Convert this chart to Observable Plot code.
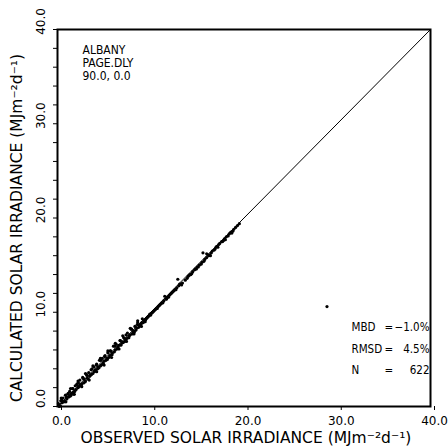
<!DOCTYPE html>
<html>
<head>
<meta charset="utf-8">
<script src="https://cdn.jsdelivr.net/npm/d3@7"></script>
<script src="https://cdn.jsdelivr.net/npm/@observablehq/plot@0.6"></script>
<style>
  html, body { margin: 0; padding: 0; background: #fff; }
</style>
</head>
<body>
<div id="chart"></div>
<script>
// Observed vs calculated daily solar irradiance (MJ m-2 d-1)
const observed = [
  0.1,0.3,0.35,0.5,0.6,0.8,0.85,1.0,1.1,1.2,1.3,1.35,1.5,1.6,1.7,1.75,1.9,2.0,2.1,2.2,
  2.3,2.4,2.45,2.6,2.7,2.8,2.85,3.0,3.1,3.2,3.3,3.35,3.5,3.6,3.65,3.8,3.9,4.0,4.1,4.2,
  4.3,4.35,4.5,4.6,4.7,4.8,4.9,5.0,5.1,5.2,5.3,5.4,5.5,5.6,5.7,5.8,5.9,6.0,6.1,6.2,
  6.3,6.4,6.5,6.6,6.7,6.8,6.9,7.0,7.1,7.2,7.3,7.4,7.5,7.6,7.7,7.8,7.9,8.0,8.1,8.2,
  8.3,8.4,8.5,8.6,8.7,8.8,8.9,9.0,9.1,9.2,9.3,9.4,9.5,9.6,9.7,9.8,9.9,10.0,10.2,10.3,
  10.5,10.6,10.8,10.9,11.1,11.2,11.4,11.5,11.7,11.8,12.0,12.2,12.3,12.5,12.7,12.8,13.0,13.2,13.4,12.9,
  13.7,13.9,14.0,14.2,14.4,14.5,14.7,14.9,15.0,15.2,15.4,15.5,15.7,15.8,16.0,16.2,16.3,16.5,16.6,16.8,
  17.0,17.1,17.3,17.4,17.6,17.8,17.9,18.1,18.3,18.4,18.6,18.8,18.9,19.1,19.3,19.5,
  0.2,0.45,0.7,0.95,1.15,1.45,1.65,1.85,2.05,2.25,2.55,2.75,2.95,3.15,3.45,3.7,3.95,4.15,4.45,4.65,
  4.85,5.05,5.35,5.65,5.85,6.15,6.45,6.75,7.05,7.35,7.65,7.95,8.25,8.55,9.05,9.45,9.85,10.4,11.0,11.6,
  12.1,12.6,13.1,14.1,14.8,15.6,16.0,16.9,17.7,18.5,
  0.4,0.9,1.4,1.8,2.2,2.6,3.0,3.4,3.8,4.2,4.6,5.0,5.4,5.8,6.2,6.6,7.0,7.4,7.8,8.2,
  8.6,9.0,9.4,10.1,10.7,11.3,11.9,12.4,13.3,14.3,15.1,16.4,17.2,18.0,18.7,
  28.9
];
const calculated = [
  0.3,0.1,0.6,0.4,0.9,0.6,1.2,0.8,1.3,1.0,1.6,1.1,1.4,1.9,1.5,1.3,2.2,1.8,2.4,2.0,
  2.1,2.8,2.3,2.4,3.1,2.5,2.9,2.7,3.4,3.0,2.9,3.6,3.3,3.9,3.4,3.5,4.2,3.8,3.9,4.5,
  4.0,4.2,4.9,4.3,4.4,5.1,4.6,4.8,5.4,4.9,5.1,5.7,5.2,5.4,5.9,5.5,5.7,6.4,5.8,6.0,
  6.6,6.1,6.3,6.5,7.0,6.5,6.7,6.8,7.3,6.9,7.1,7.2,7.8,7.3,7.5,7.6,8.2,7.7,7.9,8.0,
  8.5,8.1,8.3,8.9,8.4,8.6,8.7,8.8,9.3,8.9,9.1,9.2,9.3,9.4,9.5,9.6,9.8,9.7,10.0,10.1,
  10.3,10.4,10.6,10.7,10.9,11.0,11.2,11.7,11.4,11.6,11.8,12.0,12.1,12.3,12.4,12.6,12.8,13.0,13.1,13.5,
  13.4,13.6,13.8,14.0,14.1,14.3,14.5,14.6,14.8,15.0,15.1,15.3,15.4,15.6,15.8,16.0,16.1,16.3,16.5,16.6,
  16.9,17.0,17.2,17.3,17.5,17.6,17.8,18.0,18.1,18.3,18.5,18.6,18.8,19.0,19.2,19.4,
  0.0,0.7,0.5,1.0,1.4,1.2,1.9,1.6,2.3,2.5,2.2,3.0,2.6,3.3,3.2,4.0,3.7,4.4,4.1,4.9,
  4.5,5.3,5.0,5.9,5.5,6.4,6.2,7.0,6.8,7.6,7.3,8.2,7.9,8.7,8.9,9.2,9.7,10.2,10.8,11.4,
  11.9,12.4,13.0,13.9,14.6,16.3,16.2,16.7,17.5,18.4,
  0.9,0.5,1.9,1.3,2.7,2.1,3.5,2.8,4.3,3.7,5.1,4.4,5.9,5.2,6.7,6.1,7.5,6.9,8.3,7.7,
  9.1,8.5,9.0,9.9,10.4,11.0,11.6,12.2,12.9,14.0,14.8,16.0,16.9,17.7,18.4,
  10.6
];
const axisDomain = [0, 40];
const majorTicks = [0, 10, 20, 30, 40];
const minorTicks = [0, 2, 4, 6, 8, 10, 12, 14, 16, 18, 20, 22, 24, 26, 28, 30, 32, 34, 36, 38, 40];
const siteLines = ["ALBANY", "PAGE.DLY", "90.0, 0.0"];
const statNames = ["MBD", "RMSD", "N"];
const statValues = ["\u22121.0%", "4.5%", "622"];
const xTitle = "OBSERVED SOLAR IRRADIANCE (MJm\u207B\u00B2d\u207B\u00B9)";
const yTitle = "CALCULATED SOLAR IRRADIANCE (MJm\u207B\u00B2d\u207B\u00B9)";

const points = observed.map((o, i) => ({obs: o, calc: calculated[i]}));
const fmt = d => d.toFixed(1);
const NARROW = "'DejaVu Sans Condensed', 'Liberation Sans Narrow', 'DejaVu Sans', sans-serif";
const WIDE = "'DejaVu Sans', sans-serif";
const rowGap = 21.5;
const statOpts = {frameAnchor: "bottom-left", lineAnchor: "middle", fontSize: 11.5, fontFamily: NARROW};

const statMarks = statNames.flatMap((name, i) => [
  Plot.text([name], {...statOpts, dx: 294, dy: -79 + i * rowGap, textAnchor: "start"}),
  Plot.text(["="], {...statOpts, dx: 327, dy: -79 + i * rowGap, textAnchor: "start"}),
  Plot.text([statValues[i]], {...statOpts, dx: 372, dy: -79 + i * rowGap, textAnchor: "end"})
]);

const chart = Plot.plot({
  width: 448,
  height: 448,
  marginLeft: 57,
  marginRight: 18,
  marginTop: 29,
  marginBottom: 42,
  style: {fontFamily: WIDE, fontSize: "12px", background: "#fff", color: "#000"},
  x: {domain: axisDomain},
  y: {domain: axisDomain},
  marks: [
    Plot.axisY({ticks: minorTicks, tickSize: 4, tickFormat: () => "", label: null}),
    Plot.axisY({ticks: majorTicks, tickSize: 0, tickPadding: 13, tickFormat: fmt, tickRotate: -90,
                textAnchor: "middle", fontSize: 12, dy: -8, label: null}),
    Plot.axisX({ticks: majorTicks, tickSize: 4, tickPadding: 6, tickFormat: fmt, fontSize: 12,
                dx: 4, label: null}),
    Plot.text([xTitle], {frameAnchor: "bottom", dx: 2, dy: 32, lineAnchor: "middle",
              textAnchor: "middle", fontSize: 15.5}),
    Plot.text([yTitle], {frameAnchor: "left", dx: -40, dy: 10, rotate: -90,
              textAnchor: "middle", lineAnchor: "middle", fontSize: 15.5}),
    Plot.frame({strokeWidth: 2}),
    Plot.line(axisDomain, {x: d => d, y: d => d, stroke: "#000", strokeWidth: 1}),
    Plot.dot(points, {x: "obs", y: "calc", r: 1.6, fill: "#000", stroke: null}),
    Plot.text([siteLines.join("\n")], {frameAnchor: "top-left", dx: 25, dy: 16,
              textAnchor: "start", lineAnchor: "top", lineHeight: 1.05, fontSize: 12,
              fontFamily: NARROW}),
    ...statMarks
  ]
});
document.getElementById("chart").appendChild(chart);
</script>
</body>
</html>
